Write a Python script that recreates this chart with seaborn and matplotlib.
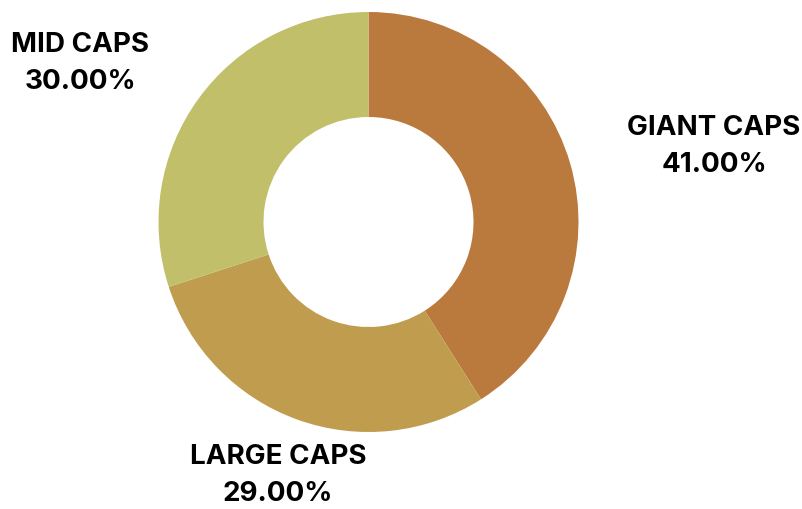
import matplotlib
matplotlib.use("Agg")
import matplotlib.pyplot as plt
import seaborn as sns

categories = ["GIANT CAPS", "LARGE CAPS", "MID CAPS"]
shares = [41.0, 29.0, 30.0]
colors = ["#BA7A3E", "#C09C4E", "#C2BF6B"]

sns.set_theme(style="white")
plt.rcParams['font.family'] = ['Inter', 'DejaVu Sans']

W, H = 803, 509
fig = plt.figure(figsize=(W / 100, H / 100), dpi=100)
ax = fig.add_axes([0, 0, 1, 1])
ax.set_xlim(0, W)
ax.set_ylim(0, H)
ax.set_aspect('equal')
ax.axis('off')

cx, cy, R = 368.5, H - 222, 210
ax.pie(shares, colors=colors, startangle=90, counterclock=False,
       center=(cx, cy), radius=R, frame=True,
       wedgeprops=dict(width=R * 0.5, edgecolor='none', linewidth=0))
ax.set_xlim(0, W)
ax.set_ylim(0, H)
ax.axis('off')

label_pos = {"GIANT CAPS": (714, 128), "LARGE CAPS": (278, 457), "MID CAPS": (80, 45)}
for cat, val in zip(categories, shares):
    x, y = label_pos[cat]
    ax.text(x, H - y, cat, ha='center', va='center', fontsize=20,
            fontweight='bold', color='black')
    ax.text(x, H - y - 37, f"{val:.2f}%", ha='center', va='center',
            fontsize=20, fontweight='bold', color='black')

fig.savefig("out.png", dpi=100, facecolor='white')
